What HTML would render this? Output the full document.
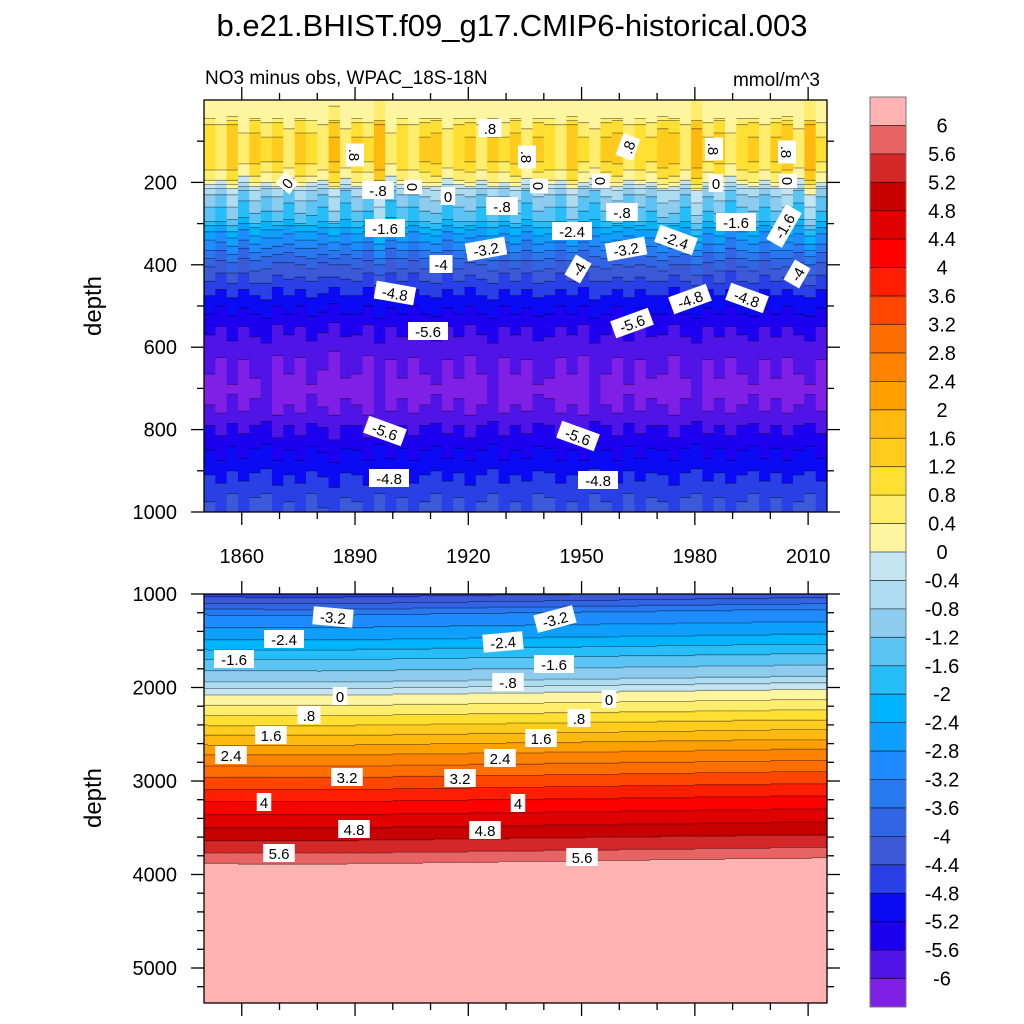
<!DOCTYPE html>
<html><head><meta charset="utf-8"><style>
body{margin:0;background:#fff;}
svg{display:block;font-family:"Liberation Sans",sans-serif;}
</style></head><body>
<svg id="c" width="1024" height="1024" viewBox="0 0 1024 1024">
<text x="512" y="36" font-size="31" text-anchor="middle">b.e21.BHIST.f09_g17.CMIP6-historical.003</text>
<text x="205" y="84" font-size="19">NO3 minus obs, WPAC_18S-18N</text>
<text x="820" y="86" font-size="19" text-anchor="end">mmol/m^3</text>
<text transform="translate(101,306) rotate(-90)" font-size="24" text-anchor="middle">depth</text>
<text transform="translate(101,798) rotate(-90)" font-size="24" text-anchor="middle">depth</text>
<g id="topFill"></g><g id="botFill"></g><g id="lines"></g><g id="axes"></g><g id="labels"></g><g id="cbar"></g>
</svg>
<script>
const levels=[-6,-5.6,-5.2,-4.8,-4.4,-4,-3.6,-3.2,-2.8,-2.4,-2,-1.6,-1.2,-0.8,-0.4,0,0.4,0.8,1.2,1.6,2,2.4,2.8,3.2,3.6,4,4.4,4.8,5.2,5.6,6];
const colors=["#8020E6","#5014E6","#1E00F0","#0A0AF5","#2840E6","#3C5AD8","#3264E6","#2878F0","#1E8CFF","#0FA0FF","#00B4FF","#26BDF8","#5CC4F4","#8ECCEF","#ADDCF0","#C4E4F2","#FFF5A0","#FFEE6E","#FFDF32","#FFCC1E","#FFB90F","#FFA000","#FF8200","#FF6E00","#FF4600","#FF1E00","#FF0000","#E10000","#C80000","#D42828","#E86464","#FFB2B2"];
const topDepths=[0,40,60,100,150,190,205,220,260,290,315,357,400,466,500,558,600,655,700,740,800,860,917,960,1000];
const topVals=[0.2,0.25,0.7,1.1,1.0,0.4,0,-0.8,-1.3,-1.6,-2.4,-3.2,-4,-4.8,-5.1,-5.6,-5.8,-6.04,-6.15,-6.06,-5.6,-5.2,-4.8,-4.5,-4.4];
const years3=[1850,1853,1856,1859,1862,1865,1868,1871,1874,1877,1880,1883,1886,1889,1892,1895,1898,1901,1904,1907,1910,1913,1916,1919,1922,1925,1928,1931,1934,1937,1940,1943,1946,1949,1952,1955,1958,1961,1964,1967,1970,1973,1976,1979,1982,1985,1988,1991,1994,1997,2000,2003,2006,2009,2012];
const anom=[0.1,-0.3,0.5,-0.5,0.3,-0.2,0.2,-0.4,0.3,-0.1,-0.3,0.6,-0.4,0.2,-0.2,0.9,-0.5,0.1,-0.3,0.2,0.3,-0.4,0.1,0.2,-0.3,0.2,-0.2,0.3,-0.4,0.2,0.1,-0.3,0.5,-0.2,-0.4,0.2,0.3,-0.3,0.1,-0.2,0.4,0.3,-0.3,0.8,-0.2,0.3,-0.5,0.1,0.2,-0.3,0.2,0.5,-0.4,0.9,-0.2];
const deepAnom=[0.02,-0.03,0.04,-0.02,0.03,0.05,-0.04,0.02,-0.03,0.04,0.01,-0.05,0.03,0.02,-0.04,0.05,-0.02,0.03,-0.03,0.02,0.04,-0.02,0.03,-0.04,0.02,0.05,-0.03,0.02,-0.02,0.04,0.03,-0.03,0.02,-0.04,0.05,0.02,-0.03,0.04,-0.02,0.03,0.02,-0.04,0.03,0.05,-0.02,0.03,-0.03,0.02,0.04,-0.02,0.03,-0.03,0.02,0.04,-0.02];
const botDepths=[1000,1100,1225,1490,1700,1940,2080,2300,2510,2720,2960,3220,3500,3770,3880,3920,5400];
const botVals=[-4.6,-4.0,-3.2,-2.4,-1.6,-0.8,0,0.8,1.6,2.4,3.2,4,4.8,5.6,5.95,6.5,6.5];
const botShiftYears=[1850,1880,1910,1940,1970,2000,2015];
const botShift=[0,-5,10,25,40,55,60];
const xTicks=[1860,1890,1920,1950,1980,2010];
const topYTicks=[200,400,600,800,1000];
const botYTicks=[1000,2000,3000,4000,5000];

const NS="http://www.w3.org/2000/svg";
const X0=204,X1=827,Y0=1850,Y1=2015;
const xs=y=>X0+(y-Y0)*(X1-X0)/(Y1-Y0);
const ty=d=>100+d*0.412;
const by=d=>594+(d-1000)*0.0935;
function interp(ds,vs,d){if(d<=ds[0])return vs[0];for(let i=1;i<ds.length;i++){if(d<=ds[i]){const t=(d-ds[i-1])/(ds[i]-ds[i-1]);return vs[i-1]+t*(vs[i]-vs[i-1]);}}return vs[vs.length-1];}
function lev(v){let k=0;while(k<levels.length&&v>=levels[k])k++;return k;}
function mk(tag,attrs,parent){const e=document.createElementNS(NS,tag);for(const k in attrs)e.setAttribute(k,attrs[k]);parent.appendChild(e);return e;}
function stepVal(arrX,arrV,x){let v=arrV[0];for(let i=0;i<arrX.length;i++)if(x>=arrX[i])v=arrV[i];return v;}

function drawPanel(g,valFn,dStart,dEnd,dStep,yf,name){
  const lines=document.getElementById('lines');let path="";
  for(let yr=Y0;yr<Y1;yr++){
    const x=xs(yr),w=xs(yr+1)-x;let prev=null,startD=dStart;
    for(let d=dStart;d<=dEnd;d+=dStep){
      const k=lev(valFn(yr,d+dStep/2));
      if(prev===null){prev=k;startD=d;continue;}
      if(k!==prev){
        const r=mk('rect',{x:x.toFixed(2),y:yf(startD).toFixed(2),width:(w+0.4).toFixed(2),height:(yf(d)-yf(startD)+0.4).toFixed(2),fill:colors[prev]},g);
        
        
        path+="M"+x.toFixed(1)+" "+yf(d).toFixed(1)+"h"+w.toFixed(2);
        prev=k;startD=d;
      }
    }
    const r=mk('rect',{x:x.toFixed(2),y:yf(startD).toFixed(2),width:(w+0.4).toFixed(2),height:(yf(dEnd)-yf(startD)).toFixed(2),fill:colors[prev]},g);
    
    
  }
  const p=mk('path',{d:path,stroke:"#000","stroke-width":0.8,"stroke-opacity":0.5,fill:"none"},lines);
  
  
}
function topVal(yr,d){
  let v=interp(topDepths,topVals,d);
  const a=stepVal(years3,anom,yr);
  const da=stepVal(years3,deepAnom,yr);
  const w=d<50?0.3:(d<260?1:Math.max(0,1-(d-260)/200));
  return v+a*w+da*(d<300?0:3);
}
function botVal(yr,d){const s=interp(botShiftYears,botShift,yr);return interp(botDepths,botVals,d+s);}
drawPanel(document.getElementById('topFill'),topVal,0,1000,5,ty,'top-panel');
drawPanel(document.getElementById('botFill'),botVal,1000,5370,10,by,'bottom-panel');

const ax=document.getElementById('axes');
function line(x1,y1,x2,y2,n){const l=mk('line',{x1,y1,x2,y2,stroke:"#000","stroke-width":1.3},ax);}
function text(x,y,s,anchor,size,n,parent){const t=mk('text',{x,y,'font-size':size,'text-anchor':anchor},parent||ax);t.textContent=s;return t;}
function frame(yT,yB,n){const r=mk('rect',{x:X0,y:yT,width:X1-X0,height:yB-yT,fill:"none",stroke:"#000","stroke-width":1.3},ax);}
frame(100,512,'top-plot-frame');frame(594,1003,'bottom-plot-frame');
for(let yr=1860;yr<=2010;yr+=10){const x=xs(yr);const maj=xTicks.includes(yr);const L=maj?13:7;
  line(x,512,x,512+L,'x-tick');line(x,100,x,100-L,'x-tick');line(x,594,x,594-L,'x-tick');line(x,1003,x,1003+L,'x-tick');}
xTicks.forEach(yr=>text(xs(yr),563,String(yr),'middle',20,'x-tick-label'));
for(let d=100;d<=1000;d+=100){const y=ty(d);const maj=topYTicks.includes(d);const L=maj?13:7;line(X0,y,X0-L,y,'y-tick');line(X1,y,X1+L,y,'y-tick');}
topYTicks.forEach(d=>text(177,ty(d)+7,String(d),'end',20,'y-tick-label'));
for(let d=1000;d<=5300;d+=200){const y=by(d);const maj=botYTicks.includes(d);const L=maj?13:7;line(X0,y,X0-L,y,'y-tick');line(X1,y,X1+L,y,'y-tick');}
botYTicks.forEach(d=>text(177,by(d)+7,String(d),'end',20,'y-tick-label'));

const lab=document.getElementById('labels');
const clabs=[[490,128,".8"],[355,155,".8",90],[527,157,".8",90],[628,147,".8",-70],[714,149,".8",90],[787,152,".8",90],[287,183,"0",-50],[413,187,"0",90],[448,196,"0"],[539,186,"0",90],[601,181,"0",90],[716,183,"0"],[788,181,"0",90],[378,190,"-.8"],[502,206,"-.8"],[622,212,"-.8"],[385,228,"-1.6"],[736,222,"-1.6"],[784,226,"-1.6",-60],[572,231,"-2.4"],[676,240,"-2.4",20],[486,249,"-3.2",-10],[626,249,"-3.2",-10],[441,264,"-4"],[578,269,"-4",-60],[797,274,"-4",-60],[395,293,"-4.8",10],[690,299,"-4.8",-20],[747,298,"-4.8",20],[428,331,"-5.6"],[632,323,"-5.6",-20],[385,431,"-5.6",20],[578,436,"-5.6",20],[389,478,"-4.8"],[598,480,"-4.8"],
[333,617,"-3.2",5],[555,619,"-3.2",-15],[284,639,"-2.4"],[503,642,"-2.4",-5],[234,659,"-1.6"],[554,664,"-1.6"],[508,682,"-.8"],[340,696,"0"],[609,699,"0"],[309,715,".8"],[579,718,".8"],[271,735,"1.6"],[541,738,"1.6"],[231,755,"2.4"],[500,758,"2.4"],[347,777,"3.2"],[460,778,"3.2"],[264,802,"4"],[518,803,"4"],[354,829,"4.8"],[485,830,"4.8"],[279,853,"5.6"],[582,857,"5.6"]];
clabs.forEach(c=>{const g=mk('g',{transform:`translate(${c[0]},${c[1]}) rotate(${c[3]||0})`},lab);
  const w=c[2].length*8.5+6;const r=mk('rect',{x:-w/2,y:-9,width:w,height:18,fill:"#fff"},g);
  text(0,6,c[2],'middle',15,'contour-label-text',g);});

const cb=document.getElementById('cbar');
const CBT=97,CBB=1007,CBX=870,CBW=36,n=colors.length,h=(CBB-CBT)/n;
for(let i=0;i<n;i++){const r=mk('rect',{x:CBX,y:CBT+i*h,width:CBW,height:h+0.3,fill:colors[n-1-i]},cb);}
for(let i=1;i<n;i++){const l=mk('line',{x1:CBX,x2:CBX+CBW,y1:CBT+i*h,y2:CBT+i*h,stroke:"#000","stroke-width":0.8,"stroke-opacity":0.7},cb);}
const fr=mk('rect',{x:CBX,y:CBT,width:CBW,height:CBB-CBT,fill:"none",stroke:"#777","stroke-width":1},cb);
levels.forEach((v,i)=>{const y=CBB-(i+1)*h;let s=String(Math.round(v*10)/10);text(942,y+7,s,'middle',20,'colorbar-label',cb);});
</script>
</body></html>
